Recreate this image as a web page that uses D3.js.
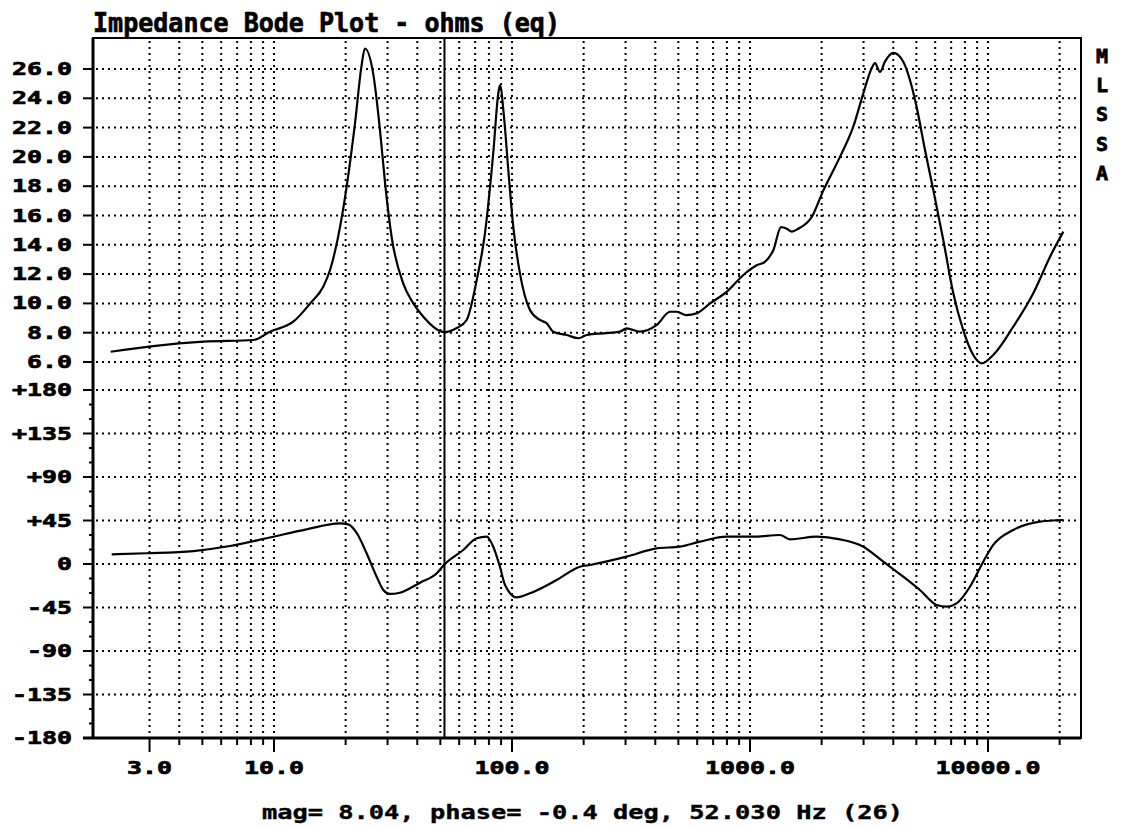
<!DOCTYPE html>
<html>
<head>
<meta charset="utf-8">
<script src="https://cdn.jsdelivr.net/npm/d3@7"></script>
<style>
body { margin: 0; background: #fff; }
</style>
</head>
<body>
<div id="chart"></div>
<script>
// impedance magnitude (ohms) vs frequency (Hz)
var magFreq = [2.06, 3.11, 5.05, 8.19, 9.62, 12.05, 14.2, 16.1, 17.2, 18.6, 20.2, 21.9, 23.3, 24.1,
  26.1, 27.9, 29.3, 31.2, 34.9, 38.5, 42.4, 50.6, 52.03, 58.6, 64.5, 71.1, 77.0, 83.4, 87.6, 89.0,
  92.6, 96.5, 101.3, 108, 119, 131, 140, 149, 170, 190, 206, 242, 284, 303, 345, 406, 461, 492,
  541, 596, 680, 800, 938, 1067, 1158, 1254, 1350, 1428, 1499, 1597, 1817, 2032, 2388, 2716, 2993,
  3245, 3350, 3516, 3690, 4000, 4406, 4700, 5014, 5433, 5890, 6489, 7148, 7870, 8670, 9400,
  10520, 12770, 15500, 18230, 20730];
var magOhms = [6.70, 7.09, 7.39, 7.50, 8.07, 8.75, 10.0, 11.14, 12.28, 14.55, 17.97, 22.3, 26.16, 27.4,
  25.7, 21.8, 18.2, 14.55, 11.37, 10.0, 9.09, 8.07, 8.04, 8.32, 8.87, 11.6, 14.8, 20.25, 24.34, 24.9,
  22.7, 19.1, 15.2, 12.05, 9.55, 8.87, 8.64, 8.07, 7.84, 7.62, 7.84, 7.96, 8.07, 8.30, 8.07, 8.53, 9.43, 9.43,
  9.2, 9.32, 10.0, 10.8, 11.94, 12.6, 12.85, 13.65, 15.2, 15.1, 14.9, 15.1, 15.9, 17.7, 20.0, 22.06, 24.34,
  26.05, 26.4, 25.8, 26.5, 27.1, 26.5, 25.25, 23.4, 20.5, 17.74, 14.33, 10.69, 8.18, 6.48, 5.91,
  6.48, 8.41, 10.69, 13.19, 14.9];

// impedance phase (deg) vs frequency (Hz)
var phaseFreq = [2.08, 2.92, 4.58, 6.53, 9.31, 13.7, 18.9, 20.5, 22.3, 24.5, 27.0, 28.8, 30.7, 33.8,
  41.1, 48.3, 52.03, 62.4, 71.1, 78.3, 83.4, 89.0, 93.5, 104.6, 119, 154, 193, 213, 303, 405, 508,
  617, 798, 1033, 1337, 1472, 1905, 2388, 2993, 3632, 4406, 5176, 6085, 6700, 7380, 8400, 9550,
  10520, 12770, 16520, 20730];
var phaseDeg = [10.0, 11.1, 13.4, 18.6, 26.6, 35.9, 42.1, 41.0, 31.8, 11.1, -13.1, -26.9, -31.0, -29.7,
  -19.3, -9.5, -0.4, 14.5, 26.6, 28.3, 17.9, -2.8, -21.7, -34.5, -30.3, -16.6, -2.8, -1.0, 7.6, 16.2, 17.9,
  23.1, 28.3, 28.3, 30.0, 25.5, 28.3, 25.5, 17.9, 2.4, -13.1, -26.9, -42.4, -44.1, -40.7, -23.5, 2.4,
  19.7, 35.2, 43.8, 45.5];

var magTicks = [6, 8, 10, 12, 14, 16, 18, 20, 22, 24, 26];
var phaseTicks = [180, 135, 90, 45, 0, -45, -90, -135, -180];
var phaseMinor = [165, 150, 120, 105, 75, 60, 30, 15, -15, -30, -60, -75, -105, -120, -150, -165];
var gridFreqs = [3, 4, 5, 6, 7, 8, 9, 10, 20, 30, 40, 50, 60, 70, 80, 90, 100,
  200, 300, 400, 500, 600, 700, 800, 900, 1000, 2000, 3000, 4000, 5000, 6000, 7000, 8000, 9000,
  10000, 20000];
var freqLabels = [3, 10, 100, 1000, 10000];
var cursorHz = 52.03;
var titleText = "Impedance Bode Plot - ohms (eq)";
var captionText = "mag= 8.04, phase= -0.4 deg, 52.030 Hz (26)";
var sideLetters = ["M", "L", "S", "S", "A"];

var pl = 93, pr = 1081, pt = 38, pb = 738;
var mono = "'DejaVu Sans Mono', monospace";

var svg = d3.select("#chart").append("svg")
  .attr("width", 1127).attr("height", 827);

var x = d3.scaleLog().domain([1.736, 24590]).range([pl, pr]);
var yMag = d3.scaleLinear().domain([6, 26]).range([362, 69]);
var yPh = d3.scaleLinear().domain([-180, 180]).range([pb, 390]);

// dotted grid
var grid = svg.append("g")
  .attr("stroke", "#000").attr("stroke-width", 2).attr("stroke-dasharray", "2 4");

grid.selectAll(".vg").data(gridFreqs).enter().append("line")
  .attr("x1", function(d) { return x(d); }).attr("x2", function(d) { return x(d); })
  .attr("y1", pt + 3).attr("y2", pb);

grid.selectAll(".hm").data(magTicks).enter().append("line")
  .attr("x1", pl + 3).attr("x2", pr)
  .attr("y1", function(d) { return yMag(d); }).attr("y2", function(d) { return yMag(d); });

grid.selectAll(".hp").data(phaseTicks.slice(0, -1)).enter().append("line")
  .attr("x1", pl + 3).attr("x2", pr)
  .attr("y1", function(d) { return yPh(d); }).attr("y2", function(d) { return yPh(d); });

// frame
svg.append("rect")
  .attr("x", pl).attr("y", pt)
  .attr("width", pr - pl).attr("height", pb - pt)
  .attr("fill", "none").attr("stroke", "#000").attr("stroke-width", 2);
svg.append("line").attr("x1", pl).attr("x2", pl).attr("y1", pt).attr("y2", pb + 1)
  .attr("stroke", "#000").attr("stroke-width", 3);
svg.append("line").attr("x1", pl - 10).attr("x2", pr).attr("y1", pb).attr("y2", pb)
  .attr("stroke", "#000").attr("stroke-width", 3);

// left ticks
var ticks = svg.append("g").attr("stroke", "#000").attr("stroke-width", 2);
ticks.selectAll(".tm").data(magTicks).enter().append("line")
  .attr("x1", pl - 10).attr("x2", pl)
  .attr("y1", function(d) { return yMag(d); }).attr("y2", function(d) { return yMag(d); });
ticks.selectAll(".tp").data(phaseTicks).enter().append("line")
  .attr("x1", pl - 10).attr("x2", pl)
  .attr("y1", function(d) { return yPh(d); }).attr("y2", function(d) { return yPh(d); });
ticks.selectAll(".tpm").data(phaseMinor).enter().append("line")
  .attr("x1", pl - 4).attr("x2", pl)
  .attr("y1", function(d) { return yPh(d); }).attr("y2", function(d) { return yPh(d); });

// bottom ticks
ticks.selectAll(".tx").data(gridFreqs).enter().append("line")
  .attr("x1", function(d) { return x(d); }).attr("x2", function(d) { return x(d); })
  .attr("y1", pb)
  .attr("y2", function(d) { return freqLabels.indexOf(d) >= 0 ? pb + 14 : pb + 7; });

// labels
var fmt1 = d3.format(".1f");
function phaseLabel(d) { return d > 0 ? "+" + d : String(d); }

function addText(txt, x0, yBase, size, w) {
  return svg.append("text")
    .attr("x", x0).attr("y", yBase)
    .attr("font-family", mono).attr("font-weight", "bold").attr("font-size", size)
    .attr("stroke", "#000").attr("stroke-width", 0.7)
    .attr("textLength", w).attr("lengthAdjust", "spacingAndGlyphs")
    .text(txt);
}
magTicks.forEach(function(d) { var t = fmt1(d); addText(t, 72 - 15 * t.length, yMag(d) + 6, 18, 15 * t.length); });
phaseTicks.forEach(function(d) { var t = phaseLabel(d); addText(t, 72 - 15 * t.length, yPh(d) + 6, 18, 15 * t.length); });

freqLabels.forEach(function(d) {
  var t = fmt1(d), w = 15 * t.length;
  addText(t, x(d) - w / 2, 774, 18, w);
});

// cursor
svg.append("line")
  .attr("x1", x(cursorHz)).attr("x2", x(cursorHz))
  .attr("y1", pt).attr("y2", pb)
  .attr("stroke", "#000").attr("stroke-width", 2);

// curves
var magLine = d3.line()
  .x(function(d, i) { return x(magFreq[i]); })
  .y(function(d) { return yMag(d); })
  .curve(d3.curveMonotoneX);
svg.append("path").attr("d", magLine(magOhms))
  .attr("fill", "none").attr("stroke", "#000").attr("stroke-width", 2.2);

var phaseLine = d3.line()
  .x(function(d, i) { return x(phaseFreq[i]); })
  .y(function(d) { return yPh(d); })
  .curve(d3.curveMonotoneX);
svg.append("path").attr("d", phaseLine(phaseDeg))
  .attr("fill", "none").attr("stroke", "#000").attr("stroke-width", 2.2);

// title, caption
addText(titleText, pl, 32, 26, 467);
addText(captionText, 262, 819, 20, 641).attr("stroke-width", 0.4);

// side letters
svg.selectAll(".side").data(sideLetters).enter().append("text")
  .attr("x", 1102).attr("y", function(d, i) { return 63 + i * 29.2; })
  .attr("text-anchor", "middle")
  .attr("font-family", mono).attr("font-weight", "bold").attr("font-size", 20)
  .attr("stroke", "#000").attr("stroke-width", 0.8)
  .text(function(d) { return d; });
</script>
</body>
</html>
